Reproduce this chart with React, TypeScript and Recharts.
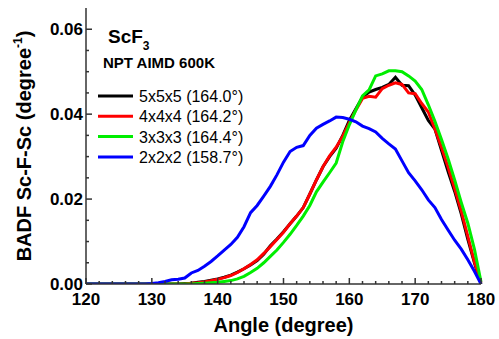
import React from "react";
import { Legend, Line, LineChart, XAxis, YAxis } from "recharts";

// angle grid (degree)
const angles = [
  120, 121, 122, 123, 124, 125, 126, 127, 128, 129,
  130, 131, 132, 133, 134, 135, 136, 137, 138, 139,
  140, 141, 142, 143, 144, 145, 146, 147, 148, 149,
  150, 151, 152, 153, 154, 155, 156, 157, 158, 159,
  160, 161, 162, 163, 164, 165, 166, 167, 168, 169,
  170, 171, 172, 173, 174, 175, 176, 177, 178, 179,
  180,
];

// BADF for each supercell
const s5 = [
  0, 0, 0, 0, 0, 0, 0, 0, 0, 0,
  0, 0, 0, 0, 0, 0.0001, 0.0002, 0.0004, 0.0006, 0.0009,
  0.0012, 0.0016, 0.0021, 0.0028, 0.0036, 0.0045, 0.0055, 0.007, 0.009, 0.0106,
  0.0123, 0.0142, 0.016, 0.018, 0.0212, 0.0245, 0.0276, 0.03, 0.032, 0.035,
  0.0385, 0.0413, 0.044, 0.0452, 0.0458, 0.0463, 0.047, 0.0487, 0.0468, 0.0467,
  0.0445, 0.0415, 0.0385, 0.0365, 0.0315, 0.0265, 0.0218, 0.0165, 0.0105, 0.005,
  0,
];
const s4 = [
  0, 0, 0, 0, 0, 0, 0, 0, 0, 0,
  0, 0, 0, 0, 0, 0, 0.0002, 0.0003, 0.0005, 0.0008,
  0.0011, 0.0015, 0.002, 0.0027, 0.0036, 0.0046, 0.0057, 0.0072, 0.0088, 0.0105,
  0.0122, 0.0142, 0.016, 0.018, 0.0212, 0.0245, 0.0276, 0.0302, 0.0322, 0.0348,
  0.038, 0.041, 0.0437, 0.0442, 0.044, 0.046, 0.0468, 0.0474, 0.047, 0.045,
  0.0448, 0.0425, 0.0405, 0.0365, 0.0322, 0.0275, 0.0225, 0.0172, 0.0112, 0.0052,
  0.0003,
];
const s3 = [
  0, 0, 0, 0, 0, 0, 0, 0, 0, 0,
  0, 0, 0, 0, 0, 0, 0, 0.0001, 0.0002, 0.0003,
  0.0004, 0.0006, 0.0008, 0.0012, 0.0018, 0.0027, 0.0037, 0.005, 0.0065, 0.008,
  0.0098, 0.0117, 0.0138, 0.016, 0.0185, 0.0217, 0.024, 0.0262, 0.0285, 0.0335,
  0.0375, 0.041, 0.0443, 0.0457, 0.049, 0.0495, 0.0502, 0.0502, 0.05, 0.049,
  0.0478, 0.0458, 0.0422, 0.0383, 0.034, 0.0295, 0.0245, 0.0192, 0.0143, 0.0082,
  0.0005,
];
const s2 = [
  0, 0, 0, 0, 0, 0, 0, 0, 0, 0,
  0.0001, 0.0003, 0.0006, 0.001, 0.0011, 0.0014, 0.0026, 0.0032, 0.0042, 0.0053,
  0.0066, 0.008, 0.0093, 0.011, 0.0135, 0.0168, 0.0185, 0.0207, 0.023, 0.0257,
  0.0287, 0.0312, 0.0322, 0.0326, 0.035, 0.0367, 0.0376, 0.0384, 0.0393, 0.0392,
  0.0388, 0.0382, 0.0372, 0.0366, 0.0358, 0.0343, 0.033, 0.0318, 0.029, 0.0262,
  0.0243, 0.0222, 0.0198, 0.018, 0.0152, 0.0127, 0.0103, 0.0082, 0.0057, 0.003,
  0,
];

const seriesNames = ["5x5x5 (164.0°)", "4x4x4 (164.2°)", "3x3x3 (164.4°)", "2x2x2 (158.7°)"];

const xTicks = [
  120, 122, 124, 126, 128, 130, 132, 134, 136, 138, 140, 142, 144, 146, 148, 150,
  152, 154, 156, 158, 160, 162, 164, 166, 168, 170, 172, 174, 176, 178, 180,
];
const yTicks = [0, 0.005, 0.01, 0.015, 0.02, 0.025, 0.03, 0.035, 0.04, 0.045, 0.05, 0.055, 0.06];

const data = angles.map((a, i) => ({ angle: a, s5: s5[i], s4: s4[i], s3: s3[i], s2: s2[i] }));

const FONT = "'Liberation Sans', Arial, Helvetica, sans-serif";
const AXIS = "#333";

const isMajor = (v: number, step: number) => Math.abs(v / step - Math.round(v / step)) < 1e-6;

const BottomTick = ({ x, y, payload }: any) => {
  const major = isMajor(payload.value, 10);
  return (
    <g>
      <line x1={x} x2={x} y1={y} y2={y - (major ? 6 : 3)} stroke={AXIS} strokeWidth={1.5} />
      {major && (
        <text x={x} y={y + 21} textAnchor="middle" fontSize={17} fontWeight="bold" fontFamily={FONT} fill="#000">
          {payload.value}
        </text>
      )}
    </g>
  );
};

const TopTick = ({ x, y, payload }: any) => {
  const major = isMajor(payload.value, 10);
  return <line x1={x} x2={x} y1={y} y2={y + (major ? 6 : 3)} stroke={AXIS} strokeWidth={1.5} />;
};

const LeftTick = ({ x, y, payload }: any) => {
  const major = isMajor(payload.value, 0.02);
  return (
    <g>
      <line x1={x} x2={x + (major ? 6 : 3)} y1={y} y2={y} stroke={AXIS} strokeWidth={1.5} />
      {major && (
        <text x={x - 3} y={y + 6} textAnchor="end" fontSize={17} fontWeight="bold" fontFamily={FONT} fill="#000">
          {payload.value.toFixed(2)}
        </text>
      )}
    </g>
  );
};

const RightTick = ({ x, y, payload }: any) => {
  const major = isMajor(payload.value, 0.02);
  return <line x1={x} x2={x - (major ? 6 : 3)} y1={y} y2={y} stroke={AXIS} strokeWidth={1.5} />;
};

const LegendBox = ({ payload }: any) => {
  // keep the legend in series order
  const items = seriesNames
    .map((n) => (payload || []).find((p: any) => p.value === n))
    .filter(Boolean);
  return (
    <svg width={260} height={175} style={{ position: "absolute", left: 0, top: 0, overflow: "visible" }}>
      <text x={108} y={43} fontSize={19} fontWeight="bold" fontFamily={FONT} fill="#000">
        ScF<tspan fontSize={12} dy={7}>3</tspan>
      </text>
      <text x={103} y={68} fontSize={15} fontWeight="bold" fontFamily={FONT} fill="#000">
        NPT AIMD 600K
      </text>
      {items.map((p: any, i: number) => {
        const cy = 96 + i * 20.3;
        return (
          <g key={p.value}>
            <line x1={98} x2={133} y1={cy} y2={cy} stroke={p.color} strokeWidth={3} />
            <text x={139} y={cy + 6} fontSize={16} fontFamily={FONT} fill="#000">
              {p.value}
            </text>
          </g>
        );
      })}
    </svg>
  );
};

const App: React.FC = () => {
  return (
    <div style={{ position: "absolute", left: 0, top: 0, fontFamily: FONT }}>
      <LineChart width={499} height={339} data={data} margin={{ top: 8, right: 18, bottom: 0, left: 0 }}>
        <XAxis
          dataKey="angle"
          type="number"
          domain={[120, 180]}
          ticks={xTicks}
          interval={0}
          height={55}
          tickSize={0}
          tickMargin={0}
          tickLine={false}
          tick={<BottomTick />}
          axisLine={{ stroke: AXIS, strokeWidth: 1.5 }}
          label={{
            content: ({ viewBox }: any) => (
              <text
                x={viewBox.x + viewBox.width / 2}
                y={viewBox.y + 48}
                textAnchor="middle"
                fontSize={20}
                fontWeight="bold"
                fontFamily={FONT}
                fill="#000"
              >
                Angle (degree)
              </text>
            ),
          }}
        />
        <XAxis
          xAxisId="top"
          orientation="top"
          dataKey="angle"
          type="number"
          domain={[120, 180]}
          ticks={xTicks}
          interval={0}
          height={0}
          tickSize={0}
          tickMargin={0}
          tickLine={false}
          tick={<TopTick />}
          axisLine={{ stroke: AXIS, strokeWidth: 1.5 }}
        />
        <YAxis
          type="number"
          domain={[0, 0.065]}
          ticks={yTicks}
          interval={0}
          allowDataOverflow
          width={86}
          tickSize={0}
          tickMargin={0}
          tickLine={false}
          tick={<LeftTick />}
          axisLine={{ stroke: AXIS, strokeWidth: 1.5 }}
          label={{
            content: ({ viewBox }: any) => {
              const cx = 31;
              const cy = viewBox.y + viewBox.height / 2;
              return (
                <text
                  x={cx}
                  y={cy}
                  transform={`rotate(-90, ${cx}, ${cy})`}
                  textAnchor="middle"
                  fontSize={20}
                  fontWeight="bold"
                  fontFamily={FONT}
                  fill="#000"
                >
                  BADF Sc-F-Sc (degree
                  <tspan fontSize={12} dy={-9}>-1</tspan>
                  <tspan dy={9}>)</tspan>
                </text>
              );
            },
          }}
        />
        <YAxis
          yAxisId="right"
          orientation="right"
          type="number"
          domain={[0, 0.065]}
          ticks={yTicks}
          interval={0}
          allowDataOverflow
          width={0}
          tickSize={0}
          tickMargin={0}
          tickLine={false}
          tick={<RightTick />}
          axisLine={{ stroke: AXIS, strokeWidth: 1.5 }}
        />
        <Legend
          layout="vertical"
          align="center"
          verticalAlign="middle"
          content={<LegendBox />}
          wrapperStyle={{ left: 0, top: 0, width: 0, height: 0 }}
        />
        <Line type="linear" dataKey="s5" name={seriesNames[0]} stroke="#000000" strokeWidth={3} dot={false} isAnimationActive={false} />
        <Line type="linear" dataKey="s4" name={seriesNames[1]} stroke="#ff0000" strokeWidth={3} dot={false} isAnimationActive={false} />
        <Line type="linear" dataKey="s3" name={seriesNames[2]} stroke="#00ee00" strokeWidth={3} dot={false} isAnimationActive={false} />
        <Line type="linear" dataKey="s2" name={seriesNames[3]} stroke="#0000ff" strokeWidth={3} dot={false} isAnimationActive={false} />
      </LineChart>
    </div>
  );
};

export default App;
